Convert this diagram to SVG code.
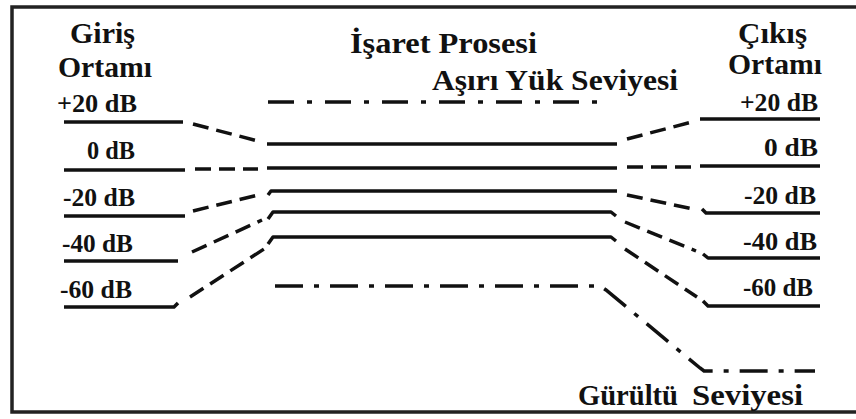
<svg xmlns="http://www.w3.org/2000/svg" width="856" height="419" viewBox="0 0 856 419">
<style>
.t1{font-family:'Liberation Serif','Times New Roman','DejaVu Serif',serif;font-weight:700;fill:#111;font-size:29px;}
.t2{font-family:'Liberation Serif','Times New Roman','DejaVu Serif',serif;font-weight:700;fill:#111;font-size:25px;}
.sol{fill:none;stroke:#111;stroke-width:3.5;stroke-linejoin:round;}
.dsh{fill:none;stroke:#111;stroke-width:3.5;stroke-dasharray:16 8;}
.dd{fill:none;stroke:#111;stroke-width:3.5;stroke-dasharray:28 11 5 11;}
.ddo{fill:none;stroke:#111;stroke-width:3.5;stroke-dasharray:26 13 5 13;}
</style>
<rect x="12" y="7" width="900" height="405" fill="#fff" stroke="#222" stroke-width="3.5"/>

<g id="titles">
<text class="t1" x="70" y="43" textLength="65" lengthAdjust="spacingAndGlyphs">Giriş</text>
<text class="t1" x="58" y="77" textLength="94" lengthAdjust="spacingAndGlyphs">Ortamı</text>
<text class="t1" x="350" y="53" textLength="187" lengthAdjust="spacingAndGlyphs">İşaret Prosesi</text>
<text class="t1" x="738" y="43" textLength="69" lengthAdjust="spacingAndGlyphs">Çıkış</text>
<text class="t1" x="728" y="74" textLength="94" lengthAdjust="spacingAndGlyphs">Ortamı</text>
</g>

<g id="in-p20"><text class="t2" x="57" y="112" textLength="80" lengthAdjust="spacingAndGlyphs">+20 dB</text><path class="sol" d="M64 122H183"/></g>
<g id="in-0"><text class="t2" x="87" y="159" textLength="48" lengthAdjust="spacingAndGlyphs">0 dB</text><path class="sol" d="M64 170H185"/></g>
<g id="in-m20"><text class="t2" x="63" y="206" textLength="72" lengthAdjust="spacingAndGlyphs">-20 dB</text><path class="sol" d="M64 216H185"/></g>
<g id="in-m40"><text class="t2" x="62" y="252" textLength="71" lengthAdjust="spacingAndGlyphs">-40 dB</text><path class="sol" d="M64 261H178"/></g>
<g id="in-m60"><text class="t2" x="60" y="298" textLength="72" lengthAdjust="spacingAndGlyphs">-60 dB</text><path class="sol" d="M64 307H174L178 303"/></g>

<g id="overload"><text class="t1" x="432" y="90" textLength="246" lengthAdjust="spacingAndGlyphs">Aşırı Yük Seviyesi</text><path class="ddo" d="M268 102H608"/></g>
<g id="mid-p20"><path class="sol" d="M267 144H617"/></g>
<g id="mid-0"><path class="sol" d="M267 168H617"/></g>
<g id="mid-m20"><path class="sol" d="M268 195L271 191H617"/></g>
<g id="mid-m40"><path class="sol" d="M268 219L273 212H611L616 216"/></g>
<g id="mid-m60"><path class="sol" d="M268 244L273 237H611L616 241"/></g>

<g id="out-p20"><text class="t2" x="740" y="111" textLength="78" lengthAdjust="spacingAndGlyphs">+20 dB</text><path class="sol" d="M700 119H820"/></g>
<g id="out-0"><text class="t2" x="764" y="156" textLength="54" lengthAdjust="spacingAndGlyphs">0 dB</text><path class="sol" d="M700 166H820"/></g>
<g id="out-m20"><text class="t2" x="744" y="204" textLength="72" lengthAdjust="spacingAndGlyphs">-20 dB</text><path class="sol" d="M702 209L706 213H820"/></g>
<g id="out-m40"><text class="t2" x="743" y="250" textLength="74" lengthAdjust="spacingAndGlyphs">-40 dB</text><path class="sol" d="M703 254L708 258H820"/></g>
<g id="out-m60"><text class="t2" x="743" y="296" textLength="70" lengthAdjust="spacingAndGlyphs">-60 dB</text><path class="sol" d="M703 301L708 306H820"/></g>

<g id="noise"><text class="t1" x="578" y="405" textLength="100" lengthAdjust="spacingAndGlyphs">Gürültü</text><text class="t1" x="692" y="405" textLength="111" lengthAdjust="spacingAndGlyphs">Seviyesi</text><path class="dd" d="M275 286H600L606 290L700 368L704 371H815"/></g>

<g id="connectors">
<path class="dsh" d="M193 124L258 141"/>
<path class="dsh" d="M195 169H258"/>
<path class="dsh" d="M193 211L258 195"/>
<path class="dsh" d="M192 252L262 220"/>
<path class="dsh" d="M190 297L264 249"/>
<path class="dsh" d="M627 139L692 122"/>
<path class="dsh" d="M627 167H692"/>
<path class="dsh" d="M627 195L693 209"/>
<path class="dsh" d="M625 222L696 251"/>
<path class="dsh" d="M625 249L697 297"/>
</g>
</svg>
